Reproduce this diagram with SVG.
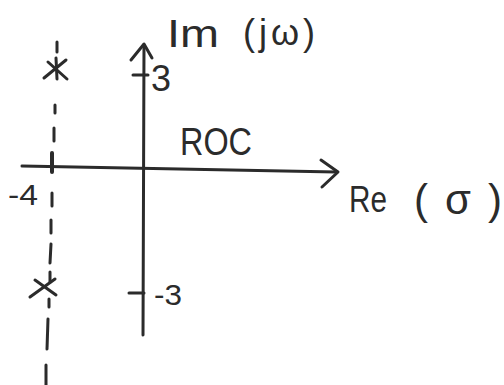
<svg xmlns="http://www.w3.org/2000/svg" width="504" height="385" viewBox="0 0 504 385">
<style>
.ln{stroke:#2b2b2b;stroke-width:3;fill:none;stroke-linecap:round;stroke-linejoin:round}
.dash{stroke:#2b2b2b;stroke-width:3;fill:none;stroke-linecap:round}
.t{font-family:"Liberation Sans","DejaVu Sans",sans-serif;fill:#2b2b2b}
</style>
<rect width="504" height="385" fill="#ffffff"/>
<g id="connectors">
<g id="im-axis">
<path class="ln" d="M143,335 L144,45"/>
<path class="ln" d="M131,60 L144,44 L152,58"/>
</g>
<g id="re-axis">
<path class="ln" d="M22,166 L336,172"/>
<path class="ln" d="M321,160 L338,172 L322,187"/>
</g>
<g id="ticks">
<path class="ln" d="M133,75 L148,75"/>
<path class="ln" d="M129,293 L144,293"/>
</g>
<g id="dashed-line">
<path class="dash" d="M57,42 L57,52"/>
<path class="dash" d="M55,105 L55,113"/>
<path class="dash" d="M54,128 L54,141"/>
<path class="dash" d="M52,153 L52,172" style="stroke-width:4"/>
<path class="dash" d="M52,193 L52,206"/>
<path class="dash" d="M51,220 L51,233"/>
<path class="dash" d="M51,244 L50,263"/>
<path class="dash" d="M49,299 L49,307"/>
<path class="dash" d="M48,319 L47,349"/>
<path class="dash" d="M46,365 L46,385"/>
</g>
</g>
<g id="pole-top">
<path class="ln" d="M44,78 L66,60"/>
<path class="ln" d="M48,62 L67,79"/>
<path class="ln" d="M56,58 L57,79"/>
</g>
<g id="pole-bottom">
<path class="ln" d="M30,297 L55,279"/>
<path class="ln" d="M35,280 L56,295"/>
<path class="ln" d="M50,272 L50,282"/>
</g>
<g id="labels">
<text class="t" x="167" y="47" font-size="38" textLength="52" lengthAdjust="spacingAndGlyphs">Im</text>
<text class="t" x="243" y="45" font-size="36" textLength="72">(jω)</text>
<text class="t" x="151" y="91" font-size="36">3</text>
<text class="t" x="154" y="305" font-size="30" textLength="28" lengthAdjust="spacingAndGlyphs">-3</text>
<text class="t" x="8" y="205" font-size="30" textLength="30" lengthAdjust="spacingAndGlyphs">-4</text>
<text class="t" x="180" y="155" font-size="38" textLength="72" lengthAdjust="spacingAndGlyphs">ROC</text>
<text class="t" x="349" y="212" font-size="36" textLength="38" lengthAdjust="spacingAndGlyphs">Re</text>
<text class="t" x="414" y="214" font-size="42" textLength="88">(σ)</text>
</g>
</svg>
